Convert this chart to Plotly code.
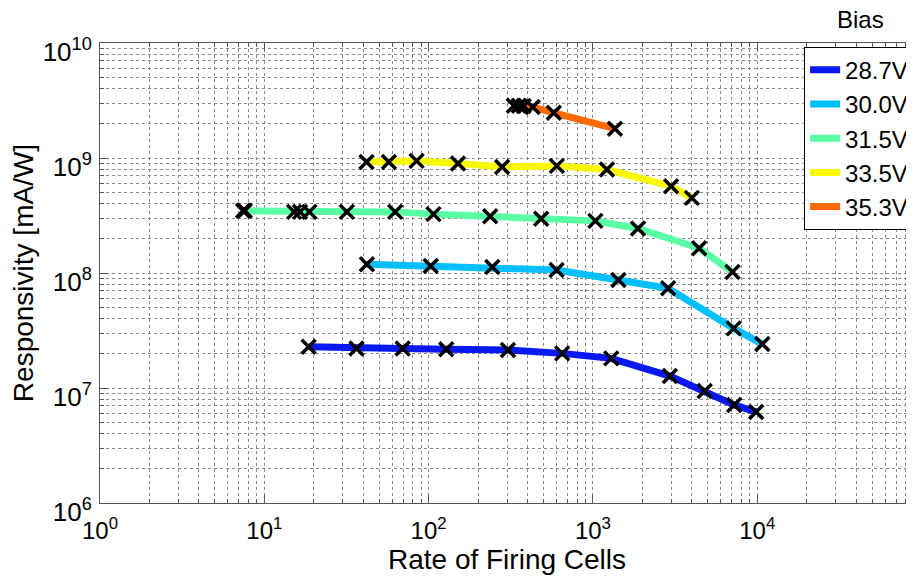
import plotly.graph_objects as go

# ---- data ----
bias_labels = ["28.7V", "30.0V", "31.5V", "33.5V", "35.3V"]
colors = ["#0818F0", "#00BFFF", "#5AFFA5", "#F8F800", "#FF6A00"]

v287_x = [18.6, 36.4, 69.5, 128, 304, 650, 1293, 2940, 4790, 7240, 9850]
v287_y = [2.28e7, 2.21e7, 2.21e7, 2.17e7, 2.14e7, 2.00e7, 1.81e7, 1.27e7, 9.42e6, 7.11e6, 6.19e6]

v300_x = [42.1, 103, 244, 601, 1430, 2870, 7190, 10740]
v300_y = [1.19e8, 1.15e8, 1.13e8, 1.06e8, 8.69e7, 7.36e7, 3.30e7, 2.41e7]

v315_x = [7.43, 7.6, 15.2, 16.5, 18.8, 31.8, 62.6, 107, 237, 484, 1035, 1880, 4430, 7070]
v315_y = [3.47e8, 3.47e8, 3.40e8, 3.40e8, 3.40e8, 3.40e8, 3.40e8, 3.25e8, 3.12e8, 2.96e8,
          2.84e8, 2.44e8, 1.64e8, 1.02e8]

v335_x = [41.9, 57.3, 84.5, 151, 280, 603, 1217, 2990, 4000]
v335_y = [9.25e8, 9.25e8, 9.44e8, 8.96e8, 8.37e8, 8.54e8, 7.94e8, 5.69e8, 4.50e8]

v353_x = [330, 354, 379, 430, 578, 1361]
v353_y = [2.85e9, 2.85e9, 2.83e9, 2.78e9, 2.47e9, 1.80e9]

x_tickvals = [1, 10, 100, 1000, 10000]
x_ticktext = ["10<sup>0</sup>", "10<sup>1</sup>", "10<sup>2</sup>", "10<sup>3</sup>", "10<sup>4</sup>"]
y_tickvals = [1e6, 1e7, 1e8, 1e9, 1e10]
y_ticktext = ["10<sup>6</sup>", "10<sup>7</sup>", "10<sup>8</sup>", "10<sup>9</sup>", "10<sup>10</sup>"]

series = [(v287_x, v287_y), (v300_x, v300_y), (v315_x, v315_y), (v335_x, v335_y), (v353_x, v353_y)]

FONT = "Liberation Sans, Arial, sans-serif"
GRID = "#8a8a8a"
AX = "#555"

fig = go.Figure()
for (xs, ys), name, col in zip(series, bias_labels, colors):
    fig.add_trace(go.Scatter(x=xs, y=ys, mode="lines", name=name,
                             line=dict(color=col, width=7)))
for (xs, ys), name in zip(series, bias_labels):
    fig.add_trace(go.Scatter(x=xs, y=ys, mode="markers", showlegend=False,
                             marker=dict(symbol="x-thin", size=14, color="black",
                                         line=dict(color="black", width=3.5))))

common = dict(ticks="inside", ticklen=8, tickcolor=AX, showline=True, linecolor=AX,
              linewidth=1, mirror="allticks", zeroline=False,
              showgrid=True, gridcolor=GRID, griddash="dot", gridwidth=1,
              minor=dict(dtick="D1", ticks="inside", ticklen=4, tickcolor=AX,
                         showgrid=True, gridcolor=GRID, griddash="dot", gridwidth=1))

fig.update_xaxes(type="log", range=[0, 4.954], tickvals=x_tickvals, ticktext=x_ticktext,
                 ticklabelstandoff=6,
                 tickfont=dict(family=FONT, size=24, color="black"),
                 title=dict(text="Rate of Firing Cells",
                            font=dict(family=FONT, size=28, color="black"), standoff=0),
                 **common)
fig.update_yaxes(type="log", range=[6, 10], tickvals=y_tickvals, ticktext=y_ticktext,
                 ticklabelshift=9, ticklabelstandoff=2,
                 tickfont=dict(family=FONT, size=26, color="black"),
                 title=dict(text="Responsivity [mA/W]",
                            font=dict(family=FONT, size=28, color="black"), standoff=4),
                 **common)

# page body adds an 8px offset, so the figure is 906x568 and margins are shifted
fig.update_layout(
    width=906, height=568,
    margin=dict(l=92, r=0, t=35, b=73, autoexpand=False),
    paper_bgcolor="white", plot_bgcolor="white",
    font=dict(family=FONT, color="black"),
    legend=dict(x=0.865, xanchor="left", y=0.992, yanchor="top",
                bgcolor="white", bordercolor="black", borderwidth=1,
                font=dict(family=FONT, size=24, color="black"),
                itemwidth=30, tracegroupgap=0, entrywidth=110),
)
fig.add_annotation(text="Bias", xref="paper", yref="paper",
                   x=0.9337, y=1.051, showarrow=False, xanchor="center", yanchor="middle",
                   font=dict(family=FONT, size=24, color="black"))

fig.write_html("out.html")
